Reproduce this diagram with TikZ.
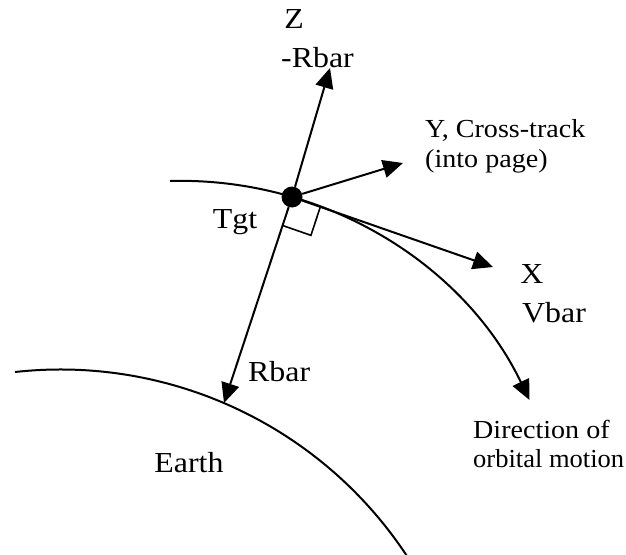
\documentclass[tikz,border=0pt]{standalone}
\usepackage{fontspec}
\usepackage{graphicx}
\setmainfont{Liberation Serif}
\usetikzlibrary{arrows.meta,calc}
\newcommand\wbig[1]{\scalebox{1.1}[1]{#1}}
\newcommand\wsmall[1]{\scalebox{1.08}[1]{#1}}
\begin{document}
\begin{tikzpicture}[x=1pt,y=1pt,
  line/.style={line width=2pt},
  arr/.style={line width=2pt, -{Triangle[length=20pt,width=18pt]}},
  big/.style={font=\fontsize{29}{34}\selectfont, inner sep=0pt},
  small/.style={font=\fontsize{26}{30}\selectfont, inner sep=0pt}]
\useasboundingbox (0,0) rectangle (626,-554);
% target dot
\node[circle, fill=black, minimum size=21pt, inner sep=0pt] (tgt) at (292,-197) {};
% arrow tips
\coordinate (ztip) at (330,-68);
\coordinate (ytip) at (403,-163);
\coordinate (xtip) at (493,-267);
\coordinate (rtip) at (224,-403);
% orbit and Earth
\coordinate (orbstart) at (170,-181);
\draw[arr] (orbstart) arc[start angle=91.6, end angle=25.7, radius=387];
\coordinate (earthstart) at (15,-372);
\draw[line] (earthstart) arc[start angle=96.3, end angle=33.5, radius=415];
% axes
\draw[arr] (tgt) -- (ztip);
\draw[arr] (tgt) -- (ytip);
\draw[arr] (tgt) -- (xtip);
\draw[arr] (tgt) -- (rtip);
% right-angle mark
\coordinate (c1) at ($(tgt.center)!30pt!(rtip)$);
\coordinate (c3) at ($(tgt.center)!30pt!(xtip)$);
\coordinate (c2) at ($(c1)+(c3)-(tgt.center)$);
\draw[line width=1.6pt] (c1) -- (c2) -- (c3);
% labels
\node[big, anchor=base] (zl) at (294,-28) {\wbig{Z}};
\node[big, anchor=base west] (mrbar) at (281,-67) {\wbig{-Rbar}};
\node[small, anchor=base west] (yl1) at (425,-137) {\wsmall{Y, Cross-track}};
\node[small, anchor=base west] (yl2) at (425,-167) {\wsmall{(into page)}};
\node[big, anchor=base] (tgtl) at (235,-228) {\wbig{Tgt}};
\node[big, anchor=base] (xl) at (532,-283) {\wbig{X}};
\node[big, anchor=base west] (vbar) at (522,-322) {\wbig{Vbar}};
\node[big, anchor=base west] (rbar) at (248,-381) {\wbig{Rbar}};
\node[big, anchor=base] (earth) at (189,-472) {\wbig{Earth}};
\node[small, anchor=base west] (dir1) at (473,-438) {\wsmall{Direction of}};
\node[small, anchor=base west] (dir2) at (473,-467) {\scalebox{1.02}[1]{orbital motion}};
\end{tikzpicture}
\end{document}
